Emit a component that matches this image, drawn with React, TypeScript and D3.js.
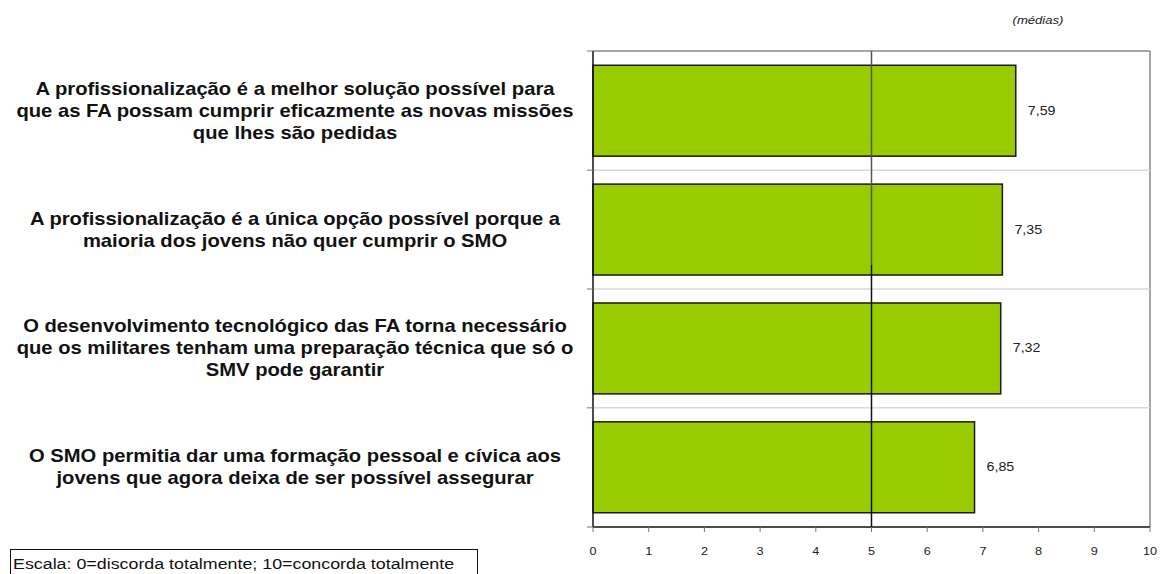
import React from 'react'
import * as d3 from 'd3'

const W = 1160
const H = 574

// categories (label lines) and mean values
const labels: string[][] = [
  ['A profissionalização é a melhor solução possível para', 'que as FA possam cumprir eficazmente as novas missões', 'que lhes são pedidas'],
  ['A profissionalização é a única opção possível porque a', 'maioria dos jovens não quer cumprir o SMO'],
  ['O desenvolvimento tecnológico das FA torna necessário', 'que os militares tenham uma preparação técnica que só o', 'SMV pode garantir'],
  ['O SMO permitia dar uma formação pessoal e cívica aos', 'jovens que agora deixa de ser possível assegurar'],
]
const values: number[] = [7.59, 7.35, 7.32, 6.85]
const xTicks: number[] = [0, 1, 2, 3, 4, 5, 6, 7, 8, 9, 10]
const refValue = 5

const font = 'Arial, "Liberation Sans", sans-serif'
const SX = 1.19 // source picture is stretched sideways

export default function App() {
  const ids = labels.map((_, i) => String(i))
  const top = 51, bottom = 527
  const x = d3.scaleLinear().domain([0, 10]).range([593, 1150])
  const y = d3.scaleBand().domain(ids).range([top, bottom]).paddingInner(0.235).paddingOuter(0.12)
  const step = y.step()
  const bounds = [top, ...ids.slice(1).map(id => (y(id) as number) - (step - y.bandwidth()) / 2), bottom]
  const fmt = (v: number) => d3.format('.2f')(v).replace('.', ',')
  const lineH = 22

  return (
    <svg width={W} height={H} style={{ position: 'absolute', left: 0, top: 0, background: '#fff' }}>
      <text transform={`translate(1038,24) scale(${SX},1)`} fontFamily={font} fontSize={11} fontStyle="italic" textAnchor="middle" fill="#222">(médias)</text>

      {/* frame + separators */}
      <line x1={x(0)} x2={x(10)} y1={top} y2={top} stroke="#888" strokeWidth={1.5} />
      <line x1={x(10)} x2={x(10)} y1={top} y2={bottom} stroke="#888" strokeWidth={1.5} />
      {bounds.slice(1, -1).map((b, i) => (
        <line key={i} x1={x(0)} x2={x(10)} y1={b} y2={b} stroke="#d9d9d9" strokeWidth={1.5} />
      ))}

      {/* bars */}
      {values.map((v, i) => {
        const yy = y(ids[i]) as number
        return (
          <g key={i}>
            <rect x={x(0)} y={yy} width={x(v) - x(0)} height={y.bandwidth()} fill="#99cc00" stroke="#1a1a1a" strokeWidth={1.5} />
            <text transform={`translate(${x(v) + 12},${yy + y.bandwidth() / 2 + 4}) scale(${SX},1)`} fontFamily={font} fontSize={12} fill="#222">{fmt(v)}</text>
          </g>
        )
      })}

      {/* reference line at 5 */}
      <line x1={x(refValue)} x2={x(refValue)} y1={top} y2={265} stroke="#555" strokeWidth={1.5} />
      <line x1={x(refValue)} x2={x(refValue)} y1={265} y2={bottom} stroke="#111" strokeWidth={1.5} />

      {/* left axis */}
      <line x1={x(0)} x2={x(0)} y1={top} y2={bottom} stroke="#111" strokeWidth={1.5} />
      {bounds.map((b, i) => (
        <line key={i} x1={x(0) - 6} x2={x(0)} y1={b} y2={b} stroke="#777" strokeWidth={1} />
      ))}

      {/* bottom axis */}
      <line x1={x(0)} x2={x(10)} y1={bottom} y2={bottom} stroke="#111" strokeWidth={1.5} />
      {xTicks.map(t => (
        <g key={t}>
          <line x1={x(t)} x2={x(t)} y1={bottom} y2={bottom + 5} stroke="#777" strokeWidth={1} />
          <text transform={`translate(${x(t)},555) scale(1.1,1)`} textAnchor="middle" fontFamily={font} fontSize={11.5} fill="#222">{t}</text>
        </g>
      ))}

      {/* category labels */}
      {labels.map((lines, i) => {
        const cy = (y(ids[i]) as number) + y.bandwidth() / 2
        const y0 = cy - ((lines.length - 1) * lineH) / 2
        return (
          <text key={i} transform={`translate(295,0) scale(1.155,1)`} textAnchor="middle" fontFamily={font} fontSize={17.5} fontWeight="bold" fill="#111">
            {lines.map((l, j) => (
              <tspan key={j} x={0} y={y0 + j * lineH + 6}>{l}</tspan>
            ))}
          </text>
        )
      })}

      {/* scale note */}
      <rect x={10.5} y={549.5} width={467} height={30} fill="#fff" stroke="#111" strokeWidth={1} />
      <text transform={`translate(13,569) scale(${SX},1)`} fontFamily={font} fontSize={15} fill="#111">Escala: 0=discorda totalmente; 10=concorda totalmente</text>
    </svg>
  )
}
